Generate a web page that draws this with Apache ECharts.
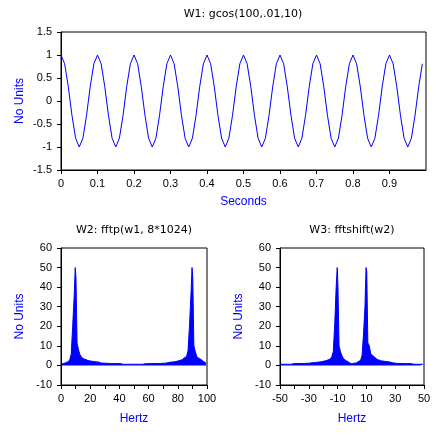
<!DOCTYPE html>
<html><head><meta charset="utf-8">
<script src="https://cdn.jsdelivr.net/npm/echarts@6/dist/echarts.min.js"></script>
<style>html,body{margin:0;padding:0;background:#fff}#c{width:442px;height:437px}</style>
</head><body><div id="c"></div>
<script>
// W1: gcos(100,.01,10) samples, dt = 0.01 s
const w1Start = 0, w1Step = 0.01;
const w1Values = [
 1,0.809,0.309,-0.309,-0.809,-1,-0.809,-0.309,0.309,0.809,
 1,0.809,0.309,-0.309,-0.809,-1,-0.809,-0.309,0.309,0.809,
 1,0.809,0.309,-0.309,-0.809,-1,-0.809,-0.309,0.309,0.809,
 1,0.809,0.309,-0.309,-0.809,-1,-0.809,-0.309,0.309,0.809,
 1,0.809,0.309,-0.309,-0.809,-1,-0.809,-0.309,0.309,0.809,
 1,0.809,0.309,-0.309,-0.809,-1,-0.809,-0.309,0.309,0.809,
 1,0.809,0.309,-0.309,-0.809,-1,-0.809,-0.309,0.309,0.809,
 1,0.809,0.309,-0.309,-0.809,-1,-0.809,-0.309,0.309,0.809,
 1,0.809,0.309,-0.309,-0.809,-1,-0.809,-0.309,0.309,0.809,
 1,0.809,0.309,-0.309,-0.809,-1,-0.809,-0.309,0.309,0.809
];
// W2: fftp(w1, 8*1024) - sidelobe heights at half-integer Hz (0.5 .. 99.5)
const w2StartHz = 0;
const w2Env = [
 0.8,1.0,1.2,1.5,1.9,2.4,3.0,5.7,20,35,
 45,11.5,8,5.5,4.2,3.4,3.0,2.7,2.5,2.3,
 2.2,2.1,2.0,1.9,1.8,1.7,1.4,1.2,1.2,1.1,
 1.1,1.1,1.0,1.0,1.0,1.0,1.0,1.0,1.0,1.0,
 0.9,0.8,0.6,0.6,0.6,0.6,0.6,0.6,0.6,0.6,
 0.6,0.6,0.6,0.6,0.6,0.6,0.6,0.8,0.9,1.0,
 1.0,1.0,1.0,1.0,1.0,1.0,1.0,1.0,1.1,1.1,
 1.1,1.2,1.3,1.5,1.7,1.7,1.8,1.9,2.0,2.2,
 2.4,2.6,2.9,3.3,3.9,4.6,5.5,7.5,20,36,
 45,10,7,4.5,3.6,3.0,2.5,2.0,1.5,1.2
];
const w2PeakHz = [10, 90];
const w2PeakVal = [50, 50];
// W3: fftshift(w2) - half-integer Hz (-49.5 .. 49.5)
const w3StartHz = -50;
const w3Env = [
 0.6,0.6,0.6,0.6,0.6,0.6,0.6,0.6,0.9,1.0,
 1.0,1.0,1.0,1.0,1.0,1.0,1.0,1.1,1.1,1.1,
 1.2,1.3,1.4,1.5,1.5,1.6,1.7,1.8,1.9,2.0,
 2.2,2.4,2.6,2.9,3.3,3.9,4.6,7.0,21,40,
 40,10,7,5,3.6,2.6,2.0,1.6,1.2,0.9,
 0.9,1.1,1.3,1.6,2.0,2.6,3.6,5.2,16,30,
 48,11.5,10,6,5,4,3.4,3.0,2.7,2.5,
 2.3,2.2,2.1,2.0,1.9,1.8,1.7,1.4,1.2,1.2,
 1.1,1.1,1.0,1.0,1.0,1.0,1.0,1.0,1.0,1.0,
 1.0,0.9,0.6,0.6,0.6,0.6,0.6,0.6,0.6,0.6
];
const w3PeakHz = [-10, 10];
const w3PeakVal = [50, 50];

const titles = ['W1: gcos(100,.01,10)', 'W2: fftp(w1, 8*1024)', 'W3: fftshift(w2)'];
const w1Ticks = [-1.5, 1.5, 0.5];
const fftTicks = [-10, 60, 10];

function spectrum(start, env, peakHz, peakVal) {
  const out = [];
  for (let i = 0; i < env.length; i++) {
    const k = start + i;
    const p = peakHz.indexOf(k);
    if (p >= 0) out.push([k, peakVal[p]]);
    out.push([k + 0.5, env[i]]);
  }
  return out;
}
const w1Data = w1Values.map((v, i) => [w1Start + i * w1Step, v]);
const w2Data = spectrum(w2StartHz, w2Env, w2PeakHz, w2PeakVal);
const w3Data = spectrum(w3StartHz, w3Env, w3PeakHz, w3PeakVal);

const BLUE = '#0000ff';
const labelStyle = { color: '#000', fontFamily: 'Liberation Sans', fontSize: 11 };
const nameStyle = { color: BLUE, fontFamily: 'Liberation Sans', fontSize: 12 };
function xAx(idx, min, max, interval, name, gap, fmt, extraLabel) {
  return {
    type: 'value', gridIndex: idx, min, max, interval, name, nameLocation: 'middle', nameGap: gap,
    nameMoveOverlap: false, nameTextStyle: nameStyle,
    axisLine: { show: true, onZero: false, lineStyle: { color: '#000', width: 1 } },
    axisTick: { show: true, length: 4, lineStyle: { color: '#000' } },
    axisLabel: Object.assign({ margin: 8, formatter: fmt }, labelStyle, extraLabel || {}),
    splitLine: { show: false }
  };
}
function yAx(idx, t) {
  return {
    type: 'value', gridIndex: idx, min: t[0], max: t[1], interval: t[2], name: 'No Units',
    nameLocation: 'middle', nameGap: 35, nameMoveOverlap: false, nameTextStyle: nameStyle,
    axisLine: { show: true, onZero: false, lineStyle: { color: '#000', width: 1 } },
    axisTick: { show: true, length: 4, lineStyle: { color: '#000' } },
    axisLabel: Object.assign({ margin: 9 }, labelStyle),
    splitLine: { show: false }
  };
}
const gridBase = { show: true, borderColor: '#000', borderWidth: 1, backgroundColor: '#fff', containLabel: false };
const titleStyle = { color: '#000', fontFamily: 'DejaVu Sans', fontSize: 11, fontWeight: 'normal' };

const chart = echarts.init(document.getElementById('c'), null, { renderer: 'canvas' });
const spec = (xi, data) => ({
  type: 'line', xAxisIndex: xi, yAxisIndex: xi, data, showSymbol: false, symbol: 'none', sampling: null,
  step: 'middle', lineStyle: { color: BLUE, width: 1 }, areaStyle: { color: BLUE, opacity: 1, origin: 0 }, silent: true
});
chart.setOption({
  animation: false,
  backgroundColor: '#fff',
  title: [
    { text: titles[0], left: 243, top: 9, padding: 0, textAlign: 'center', textStyle: titleStyle },
    { text: titles[1], left: 134, top: 225, padding: 0, textAlign: 'center', textStyle: titleStyle },
    { text: titles[2], left: 352, top: 225, padding: 0, textAlign: 'center', textStyle: titleStyle }
  ],
  grid: [
    Object.assign({ left: 61, top: 32, width: 365, height: 138 }, gridBase),
    Object.assign({ left: 61, top: 248, width: 146, height: 137 }, gridBase),
    Object.assign({ left: 280, top: 248, width: 144, height: 137 }, gridBase)
  ],
  xAxis: [
    xAx(0, 0, 1, 0.1, 'Seconds', 26, null, { showMaxLabel: false }),
    xAx(1, 0, 100, 10, 'Hertz', 28, v => (v % 20 === 0 ? String(v) : '')),
    xAx(2, -50, 50, 10, 'Hertz', 28, v => ((v + 50) % 20 === 0 ? String(v) : ''))
  ],
  yAxis: [yAx(0, w1Ticks), yAx(1, fftTicks), yAx(2, fftTicks)],
  series: [
    { type: 'line', xAxisIndex: 0, yAxisIndex: 0, data: w1Data, showSymbol: false, symbol: 'none',
      lineStyle: { color: BLUE, width: 1 }, silent: true },
    spec(1, w2Data),
    spec(2, w3Data)
  ]
});
</script></body></html>
